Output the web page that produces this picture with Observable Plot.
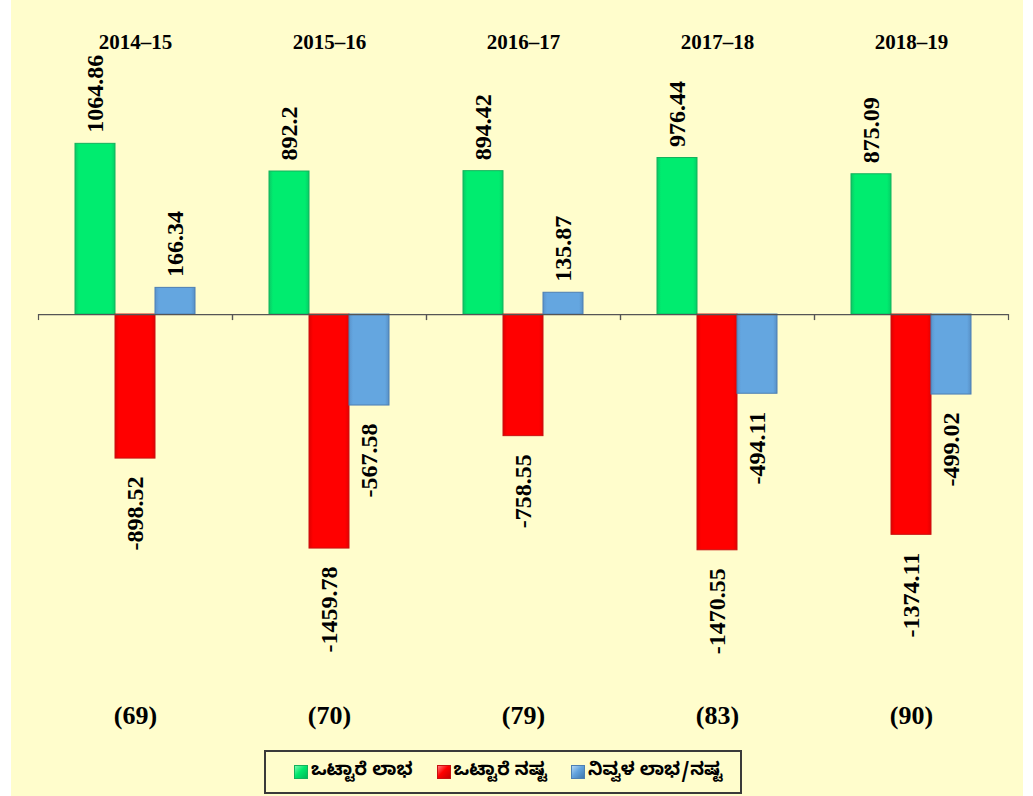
<!DOCTYPE html>
<html>
<head>
<meta charset="utf-8">
<script src="https://cdn.jsdelivr.net/npm/d3@7"></script>
<script src="https://cdn.jsdelivr.net/npm/@observablehq/plot@0.6"></script>
<style>
  html, body { margin: 0; padding: 0; }
  body {
    width: 1033px; height: 796px; overflow: hidden;
    background: linear-gradient(to right, #fff 0, #fff 11px, #FFFDCC 11px, #FFFDCC 1023px, #fff 1023px);
  }
  #chart svg { display: block; }
  #legend {
    margin-left: 264px; margin-top: 2px;
    width: 478px; height: 44px; box-sizing: border-box;
    border: 2px solid #3a3a3a;
    display: flex; align-items: center;
    padding-left: 28px; gap: 24px;
    font-family: "Noto Sans Kannada", "Noto Sans", sans-serif;
    font-weight: bold; font-size: 18px; color: #000;
  }
  #legend .item { display: flex; align-items: center; white-space: nowrap; }
  #legend .sw { width: 14px; height: 14px; margin-right: 3px; box-sizing: border-box; }
</style>
</head>
<body>
<div id="chart"></div>
<div id="legend"></div>
<script>
// ---- data ----
const years = ["2014–15", "2015–16", "2016–17", "2017–18", "2018–19"];
const seriesNames = ["ಒಟ್ಟಾರೆ ಲಾಭ", "ಒಟ್ಟಾರೆ ನಷ್ಟ", "ನಿವ್ವಳ ಲಾಭ/ನಷ್ಟ"];
const grossProfit = [1064.86, 892.2, 894.42, 976.44, 875.09];
const grossLoss = [-898.52, -1459.78, -758.55, -1470.55, -1374.11];
const netResult = [166.34, -567.58, 135.87, -494.11, -499.02];
const unitCounts = [69, 70, 79, 83, 90];

// ---- styles ----
const fills = ["url(#gGreen)", "url(#gRed)", "url(#gBlue)"];
const strokes = ["#13b25c", "#c81010", "#4d7fb3"];
const swatchFills = [
  "linear-gradient(135deg, #7cf7b0 0%, #00e86c 45%, #00b857 100%)",
  "linear-gradient(135deg, #ff7a7a 0%, #ff0000 45%, #c40000 100%)",
  "linear-gradient(135deg, #b4d6f4 0%, #62a3de 45%, #3f77ad 100%)"
];

const seriesValues = [grossProfit, grossLoss, netResult];
const rows = years.flatMap((year, i) =>
  seriesNames.map((series, k) => ({year, series, value: seriesValues[k][i]}))
);

const serif = "'Liberation Serif', 'Times New Roman', serif";

const barMarks = seriesNames.map((s, k) =>
  Plot.barY(rows.filter(r => r.series === s), {
    fx: "year", x: "series", y: "value",
    fill: fills[k], stroke: strokes[k], strokeWidth: 1
  })
);

const chart = Plot.plot({
  width: 1033,
  height: 748,
  marginTop: 0, marginBottom: 0, marginLeft: 38, marginRight: 25,
  style: {background: "transparent", fontFamily: serif, fontWeight: "bold", color: "#000"},
  fx: {domain: years, paddingInner: 0, paddingOuter: 0, axis: null, label: null},
  x: {domain: seriesNames, paddingInner: 0, paddingOuter: 0.89, axis: null, label: null},
  y: {domain: [-2707, 1959], axis: null, label: null},
  marks: [
    ...barMarks,
    Plot.ruleY([0], {stroke: "#555", strokeWidth: 1.2}),
    Plot.ruleX(years, {fx: d => d, x: null, y1: 0, y2: 0, insetBottom: -6, dx: -97, stroke: "#555", strokeWidth: 1.2}),
    Plot.ruleX(years, {fx: d => d, x: null, y1: 0, y2: 0, insetBottom: -6, dx: 97, stroke: "#555", strokeWidth: 1.2}),
    Plot.text(years, {fx: d => d, text: d => d, frameAnchor: "top", dy: 34, fontSize: 21, fontWeight: "bold", fill: "#000"}),
    Plot.text(years, {fx: d => d, text: (d, i) => `(${unitCounts[i]})`, frameAnchor: "top", dy: 705, fontSize: 26, fontWeight: "bold", fill: "#000"}),
    Plot.text(rows.filter(r => r.value >= 0), {
      fx: "year", x: "series", y: "value", text: d => String(d.value),
      rotate: -90, textAnchor: "start", dy: -11, fontSize: 24, fontWeight: "bold", fill: "#000"
    }),
    Plot.text(rows.filter(r => r.value < 0), {
      fx: "year", x: "series", y: "value", text: d => String(d.value),
      rotate: -90, textAnchor: "end", dy: 18, fontSize: 24, fontWeight: "bold", fill: "#000"
    })
  ]
});

// gradient definitions for the bevelled bars
const defs = `
<defs>
  <linearGradient id="gGreen" x1="0" x2="1" y1="0" y2="0">
    <stop offset="0" stop-color="#0cc865"/><stop offset="0.1" stop-color="#00ec6f"/>
    <stop offset="0.9" stop-color="#00ec6f"/><stop offset="1" stop-color="#05cf66"/>
  </linearGradient>
  <linearGradient id="gRed" x1="0" x2="1" y1="0" y2="0">
    <stop offset="0" stop-color="#e00000"/><stop offset="0.1" stop-color="#ff0000"/>
    <stop offset="0.9" stop-color="#ff0000"/><stop offset="1" stop-color="#e40000"/>
  </linearGradient>
  <linearGradient id="gBlue" x1="0" x2="1" y1="0" y2="0">
    <stop offset="0" stop-color="#5a94cc"/><stop offset="0.1" stop-color="#64a6e0"/>
    <stop offset="0.9" stop-color="#64a6e0"/><stop offset="1" stop-color="#5890c6"/>
  </linearGradient>
</defs>`;
chart.insertAdjacentHTML("afterbegin", defs);
document.getElementById("chart").appendChild(chart);

// legend
const legend = document.getElementById("legend");
seriesNames.forEach((name, k) => {
  const item = document.createElement("div");
  item.className = "item";
  const sw = document.createElement("span");
  sw.className = "sw";
  sw.style.background = swatchFills[k];
  sw.style.border = `1px solid ${strokes[k]}`;
  const label = document.createElement("span");
  label.textContent = name;
  item.appendChild(sw);
  item.appendChild(label);
  legend.appendChild(item);
});
</script>
</body>
</html>
